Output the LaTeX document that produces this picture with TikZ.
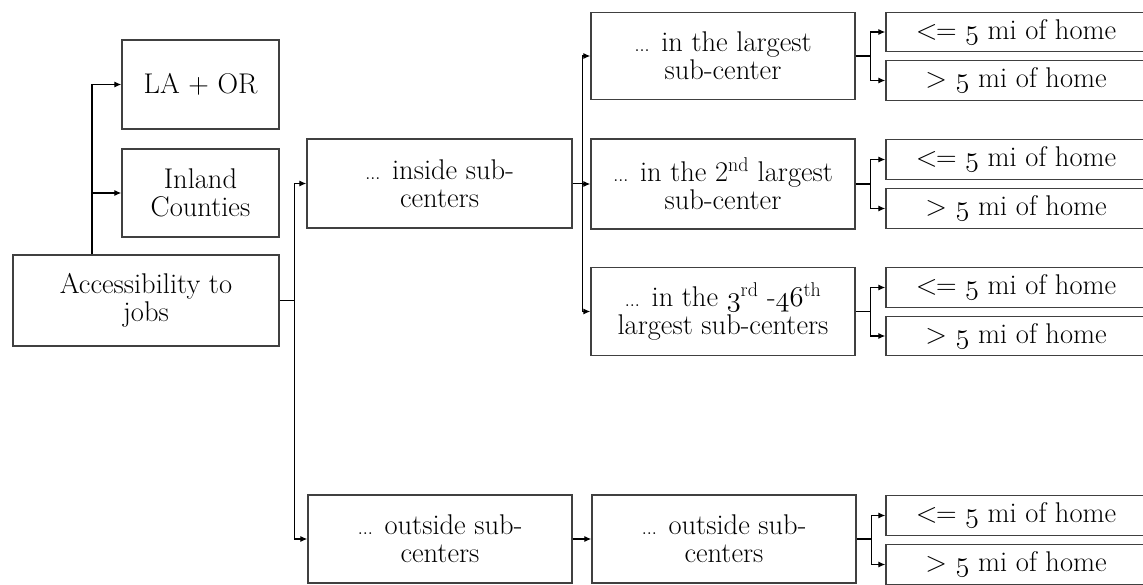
\documentclass[tikz,border=0pt]{standalone}
\usepackage{fix-cm}
\usepackage{fontspec}
\usetikzlibrary{arrows.meta}
\newcommand{\osn}[1]{{\fontencoding{OML}\fontfamily{cmm}\fontseries{m}\fontshape{it}\selectfont #1}}
\newcommand{\dts}{{\fontsize{22}{22}\selectfont.\kern-0.5pt.\kern-0.5pt.}}
\newcommand{\myle}{<\kern-1.5pt=}
\tikzset{
  box/.style={draw=black!75, line width=1.3pt, fill=white, inner sep=0pt, align=center,
              font=\fontsize{28.5}{28}\selectfont},
  conn/.style={draw=black, line width=1.2pt},
  arr/.style={conn, -{Latex[length=7pt,width=6pt]}},
  mid/.style={box, minimum width=264pt, minimum height=88pt},
  home/.style={box, minimum width=260pt, minimum height=39.5pt}
}
\begin{document}
\begin{tikzpicture}[x=1pt,y=-1pt]
\useasboundingbox (0,0) rectangle (1143,584);
\fill[white] (0,0) rectangle (1143,584);
\clip (0,0) rectangle (1143,584);

% left column
\node[box, minimum width=157pt, minimum height=89pt] (laor) at (200.5,84.5) {LA + OR};
\node[box, minimum width=157pt, minimum height=88pt] (inland) at (200.5,193) {Inland\\Counties};
\node[box, minimum width=266pt, minimum height=91pt] (acc) at (146,300.5) {Accessibility to\\jobs};

% second column
\node[mid, minimum width=265pt, minimum height=89pt] (inside) at (439.5,183.5) {\dts{} inside sub-\\centers};
\node[mid] (outA) at (440,539) {\dts{} outside sub-\\centers};

% third column
\node[mid, minimum height=87pt] (c1) at (723,56) {\dts{} in the largest\\sub-center};
\node[mid, minimum height=90pt] (c2) at (723,184) {\dts{} in the 2\textsuperscript{nd} largest\\sub-center};
\node[mid] (c3) at (723,311.5) {\dts{} in the \osn{3}\textsuperscript{rd} -\osn{46}\textsuperscript{th}\\largest sub-centers};
\node[mid] (outB) at (724,539) {\dts{} outside sub-\\centers};

% right column
\node[home] (h11) at (1016,32)    {\myle{} \osn{5} mi of home};
\node[home] (h12) at (1016,80.5)  {> \osn{5} mi of home};
\node[home] (h21) at (1016,159.5) {\myle{} \osn{5} mi of home};
\node[home] (h22) at (1016,208.5) {> \osn{5} mi of home};
\node[home] (h31) at (1016,287.5) {\myle{} \osn{5} mi of home};
\node[home] (h32) at (1016,336)   {> \osn{5} mi of home};
\node[home] (h41) at (1016,515.5) {\myle{} \osn{5} mi of home};
\node[home] (h42) at (1016,564.5) {> \osn{5} mi of home};

% connectors from Accessibility to jobs
\coordinate (a0) at ([xshift=-54pt]acc.north);
\draw[arr] (a0) |- (laor.west);
\draw[arr] (a0 |- inland.west) -- (inland.west);
\coordinate (j1) at ([xshift=15pt]acc.east);
\draw[conn] (acc.east) -- (j1);
\draw[arr] (j1) |- (inside.west);
\draw[arr] (j1) |- (outA.west);

% inside -> third column
\coordinate (j2) at ([xshift=10pt]inside.east);
\draw[conn] (inside.east) -- (j2);
\draw[arr] (j2) |- (c1.west);
\draw[arr] (j2) |- (c2.west);
\draw[arr] (j2) |- (c3.west);

% outside -> outside
\draw[arr] (outA.east) -- (outB.west);

% third column -> home boxes
\foreach \s/\a/\b in {c1/h11/h12, c2/h21/h22, c3/h31/h32, outB/h41/h42}{
  \coordinate (k) at ([xshift=15pt]\s.east);
  \draw[conn] (\s.east) -- (k);
  \draw[arr] (k) |- (\a.west);
  \draw[arr] (k) |- (\b.west);
}
\end{tikzpicture}
\end{document}
